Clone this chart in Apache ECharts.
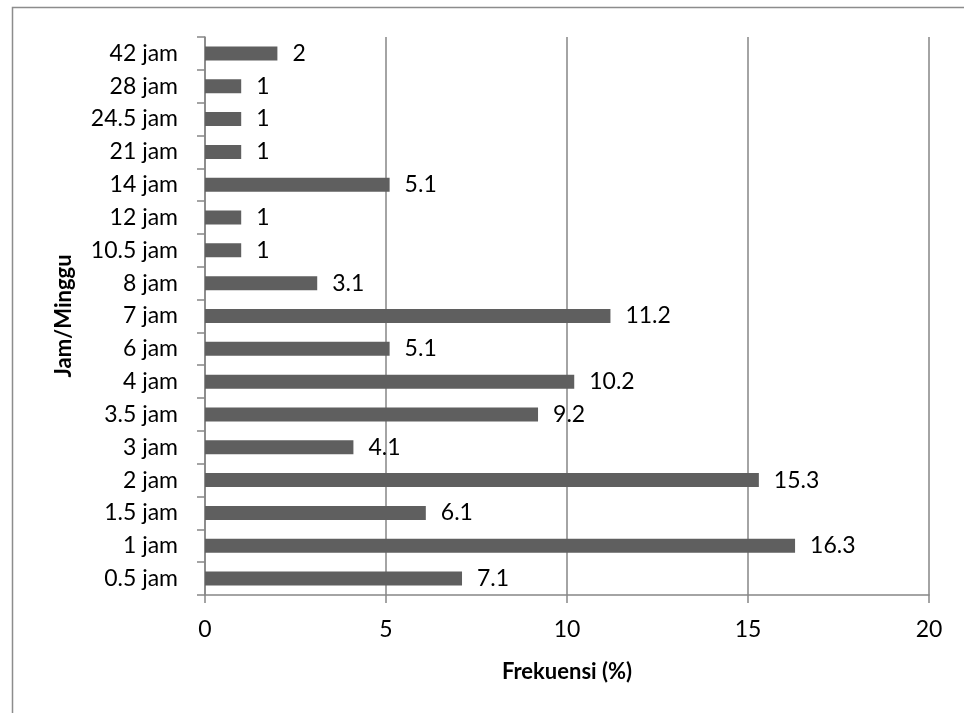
<!DOCTYPE html>
<html>
<head>
<meta charset="utf-8">
<script src="https://cdn.jsdelivr.net/npm/echarts@6/dist/echarts.min.js"></script>
<style>
html,body{margin:0;padding:0;background:#fff;}
#chart{width:964px;height:713px;}
</style>
</head>
<body>
<div id="chart"></div>
<script>
var categories = ['0.5 jam','1 jam','1.5 jam','2 jam','3 jam','3.5 jam','4 jam','6 jam','7 jam','8 jam','10.5 jam','12 jam','14 jam','21 jam','24.5 jam','28 jam','42 jam'];
var values = [7.1, 16.3, 6.1, 15.3, 4.1, 9.2, 10.2, 5.1, 11.2, 3.1, 1, 1, 5.1, 1, 1, 1, 2];
var xTicks = [0, 5, 10, 15, 20];

var FONT = 'Lato, "Open Sans", sans-serif';
var chart = echarts.init(document.getElementById('chart'), null, {renderer:'canvas'});
chart.setOption({
  animation: false,
  backgroundColor: '#ffffff',
  graphic: [{
    type: 'rect',
    shape: {x: 12.5, y: 7.5, width: 960, height: 720},
    style: {fill: 'none', stroke: '#8c8c8c', lineWidth: 1.5},
    silent: true
  }],
  grid: {left: 205, right: 35, top: 37, bottom: 118, containLabel: false},
  xAxis: {
    type: 'value',
    min: xTicks[0], max: xTicks[xTicks.length-1], interval: 5,
    name: 'Frekuensi (%)',
    nameLocation: 'middle',
    nameGap: 66,
    nameTextStyle: {fontFamily: FONT, fontSize: 22, fontWeight: 'bold', color: '#000'},
    axisLine: {show: true, lineStyle: {color: '#868686', width: 1.5}},
    axisTick: {show: true, length: 8, lineStyle: {color: '#868686', width: 1.5}},
    axisLabel: {fontFamily: FONT, fontSize: 23, color: '#000', margin: 23},
    splitLine: {show: true, lineStyle: {color: '#868686', width: 1.5}}
  },
  yAxis: {
    type: 'category',
    data: categories,
    name: 'Jam/Minggu',
    nameLocation: 'middle',
    nameGap: 130,
    nameTextStyle: {fontFamily: FONT, fontSize: 22, fontWeight: 'bold', color: '#000'},
    axisLine: {show: true, lineStyle: {color: '#868686', width: 1.5}},
    axisTick: {show: true, length: 8, lineStyle: {color: '#868686', width: 1.5}},
    axisLabel: {fontFamily: FONT, fontSize: 23, color: '#000', margin: 27},
    splitLine: {show: false}
  },
  series: [{
    type: 'bar',
    data: values,
    barWidth: 14,
    itemStyle: {color: '#5f5f5f'},
    label: {
      show: true,
      position: 'right',
      distance: 15,
      fontFamily: FONT,
      fontSize: 23,
      color: '#000'
    }
  }]
});
</script>
</body>
</html>
